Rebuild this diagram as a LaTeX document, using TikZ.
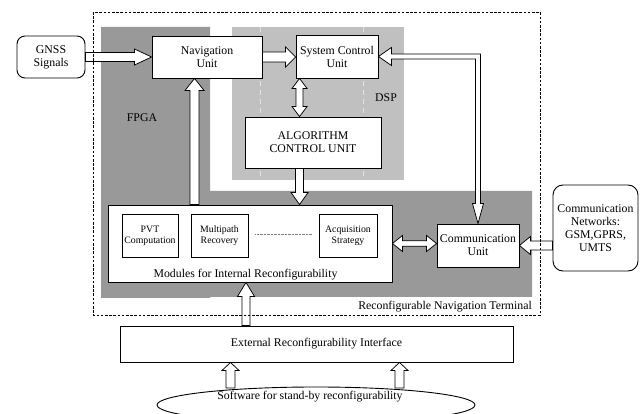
\documentclass[tikz,border=0pt]{standalone}
\usepackage{fontspec}
\setmainfont{Liberation Serif}
\usetikzlibrary{calc,shapes.geometric}
\definecolor{fpgagray}{HTML}{999999}
\definecolor{dspgray}{HTML}{C0C0C0}
\definecolor{dspline}{HTML}{E2E2E2}
\tikzset{
  box/.style={draw, line width=0.9pt, fill=white, align=center, inner sep=0pt,
    font=\fontsize{11.8}{13}\selectfont},
  smallbox/.style={box, font=\fontsize{9.8}{10.8}\selectfont},
  rbox/.style={box, rounded corners=8pt},
  barr/.style={draw, fill=white, line width=0.75pt, line join=miter},
  lbl/.style={font=\fontsize{11.8}{13}\selectfont, inner sep=0pt},
  terminal/.style={line width=0.7pt, dash pattern=on 2.6pt off 1.6pt},
}
% single-headed hollow block arrow: [opts]{from}{to}{shaft half}{head half}{head length}
\newcommand\barrow[6][]{%
  \draw[barr,#1] let \p1=(#2), \p2=(#3),
    \n1={veclen(\x2-\x1,\y2-\y1)}, \n2={(\x2-\x1)/\n1}, \n3={(\y2-\y1)/\n1} in
    ({\x1-#4*\n3},{\y1+#4*\n2})
    -- ({\x1+(\n1-#6)*\n2-#4*\n3},{\y1+(\n1-#6)*\n3+#4*\n2})
    -- ({\x1+(\n1-#6)*\n2-#5*\n3},{\y1+(\n1-#6)*\n3+#5*\n2})
    -- (\p2)
    -- ({\x1+(\n1-#6)*\n2+#5*\n3},{\y1+(\n1-#6)*\n3-#5*\n2})
    -- ({\x1+(\n1-#6)*\n2+#4*\n3},{\y1+(\n1-#6)*\n3-#4*\n2})
    -- ({\x1+#4*\n3},{\y1-#4*\n2}) -- cycle;}
% double-headed hollow block arrow
\newcommand\dbarrow[6][]{%
  \draw[barr,#1] let \p1=(#2), \p2=(#3),
    \n1={veclen(\x2-\x1,\y2-\y1)}, \n2={(\x2-\x1)/\n1}, \n3={(\y2-\y1)/\n1} in
    (\p1)
    -- ({\x1+#6*\n2-#5*\n3},{\y1+#6*\n3+#5*\n2})
    -- ({\x1+#6*\n2-#4*\n3},{\y1+#6*\n3+#4*\n2})
    -- ({\x1+(\n1-#6)*\n2-#4*\n3},{\y1+(\n1-#6)*\n3+#4*\n2})
    -- ({\x1+(\n1-#6)*\n2-#5*\n3},{\y1+(\n1-#6)*\n3+#5*\n2})
    -- (\p2)
    -- ({\x1+(\n1-#6)*\n2+#5*\n3},{\y1+(\n1-#6)*\n3-#5*\n2})
    -- ({\x1+(\n1-#6)*\n2+#4*\n3},{\y1+(\n1-#6)*\n3-#4*\n2})
    -- ({\x1+#6*\n2+#4*\n3},{\y1+#6*\n3-#4*\n2})
    -- ({\x1+#6*\n2+#5*\n3},{\y1+#6*\n3-#5*\n2})
    -- cycle;}
\begin{document}
\begin{tikzpicture}[x=1pt,y=-1pt]
\useasboundingbox (0,0) rectangle (641,414);
\clip (0,0) rectangle (641,414);
% platform regions
\fill[fpgagray] (101,27) -- (210,27) -- (210,191) -- (532,191) -- (532,297) -- (210,297) -- (210,298) -- (101,298) -- cycle;
\fill[dspgray] (232,27) rectangle (404,180);
\draw[dspline, line width=0.4pt, dash pattern=on 5pt off 4pt] (260,27) -- (260,180);
\draw[dspline, line width=0.4pt, dash pattern=on 5pt off 4pt] (363,27) -- (363,180);
% boxes
\node[rbox, minimum width=68pt, minimum height=42pt] (gnss) at (51,57) {GNSS\\Signals};
\node[box, minimum width=110pt, minimum height=42pt] (nav) at (207,57) {Navigation\\Unit};
\node[box, minimum width=82pt, minimum height=43pt] (sys) at (337,56.5) {System Control\\Unit};
\node[box, minimum width=136pt, minimum height=51pt] (algo) at (313,142.5) {ALGORITHM\\CONTROL UNIT};
\node[box, minimum width=284pt, minimum height=77pt] (mods) at (250,243.5) {};
\node[smallbox, minimum width=56pt, minimum height=43pt] (pvt) at (150,235.5) {PVT\\Computation};
\node[smallbox, minimum width=57pt, minimum height=43pt] (multi) at (219.5,235.5) {Multipath\\Recovery};
\node[smallbox, minimum width=58pt, minimum height=43pt] (acq) at (348,235.5) {Acquisition\\Strategy};
\node[lbl, anchor=base] (modslbl) at (245.5,278) {Modules for Internal Reconfigurability};
\draw[line width=0.5pt, gray, dash pattern=on 0.8pt off 0.6pt] ([xshift=7pt,yshift=1.5pt]multi.east) -- ([xshift=-7pt,yshift=1.5pt]acq.west);
\node[box, minimum width=82pt, minimum height=43pt] (comm) at (478,245.5) {Communication\\Unit};
\node[rbox, rounded corners=10pt, minimum width=85pt, minimum height=86pt] (net) at (595.5,228) {Communication\\Networks:\\GSM,GPRS,\\UMTS};
\node[box, minimum width=393pt, minimum height=36pt] (ext) at (316.5,344) {External Reconfigurability Interface};
\node[draw, ellipse, line width=0.9pt, fill=white, minimum width=318pt, minimum height=36pt, inner sep=0pt] (soft) at (316,405) {};
\node[lbl] (softlbl) at (310,397) {Software for stand-by reconfigurability};
% labels
\node[lbl] (fpgalbl) at (142,118) {FPGA};
\node[lbl] (dsplbl) at (386,98) {DSP};
% arrows
\barrow{gnss.east}{nav.west}{4.5}{8}{17}
\barrow{nav.east}{nav.east -| sys.west}{5}{10}{10}
\dbarrow{[xshift=4pt]sys.south west}{[xshift=4pt]sys.south west |- algo.north}{3.5}{7.5}{10}
\barrow{[xshift=55pt]algo.south west}{[xshift=55pt]algo.south west |- mods.north}{4}{8.5}{12}
\barrow{[xshift=43pt]nav.south west |- mods.north}{[xshift=43pt]nav.south west}{4.5}{9.5}{12}
\dbarrow{mods.east}{mods.east -| comm.west}{2.7}{8}{10}
\barrow{net.west |- comm.east}{comm.east}{4.5}{9}{11}
\barrow{[xshift=-4pt]mods.south |- ext.north}{[xshift=-4pt]mods.south}{4}{8.5}{14}
\coordinate (s1) at (230.5,388);
\coordinate (s2) at (399.5,388);
\barrow{s1}{s1 |- ext.south}{4.5}{8.5}{8}
\barrow{s2}{s2 |- ext.south}{4.5}{8.5}{8}
% elbow double arrow System Control <-> Communication Unit
\draw[barr] let \p1=(sys.east), \p2=(comm.north) in
  (\p1) -- (\x1+13pt,\y1+9pt) -- (\x1+13pt,\y1+2.5pt) -- (\x2+2.5pt,\y1+2.5pt)
  -- (\x2+2.5pt,\y2+20pt) -- (\x2+5.5pt,\y2+20pt) -- (\p2) -- (\x2-5.5pt,\y2+20pt)
  -- (\x2-2.5pt,\y2+20pt) -- (\x2-2.5pt,\y1-2.5pt) -- (\x1+13pt,\y1-2.5pt)
  -- (\x1+13pt,\y1-9pt) -- cycle;
% terminal boundary
\draw[terminal] (93,12) rectangle (540,315);
\node[lbl, anchor=base east] (rnt) at (532,310) {Reconfigurable Navigation Terminal};
\end{tikzpicture}
\end{document}
